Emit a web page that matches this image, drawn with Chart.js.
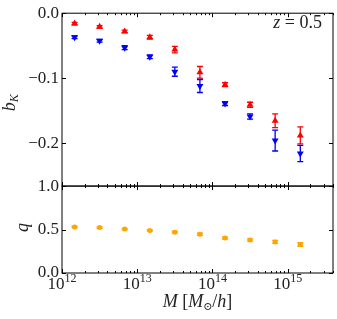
<!DOCTYPE html>
<html>
<head>
<meta charset="utf-8">
<script src="https://cdn.jsdelivr.net/npm/chart.js@4/dist/chart.umd.min.js"></script>
<style>html,body{margin:0;padding:0;background:#fff}canvas{display:block}</style>
</head>
<body>
<canvas id="c" width="337" height="319"></canvas>
<script>
// halo mass bin centres
const mass=[1.47e12,3.16e12,6.81e12,1.47e13,3.16e13,6.81e13,1.47e14,3.16e14,6.81e14,1.47e15];
// b_K, upward triangles (red)
const bkUp=[-0.016,-0.021,-0.028,-0.037,-0.056,-0.091,-0.110,-0.141,-0.1655,-0.188];
const bkUpErr=[0.002,0.002,0.002,0.003,0.005,0.009,0.003,0.004,0.0105,0.013];
// b_K, downward triangles (blue)
const bkDn=[-0.037,-0.0425,-0.053,-0.067,-0.090,-0.112,-0.139,-0.159,-0.196,-0.216];
const bkDnErr=[0.002,0.002,0.003,0.003,0.007,0.010,0.003,0.004,0.016,0.0125];
// q (orange)
const qVal=[0.530,0.522,0.506,0.490,0.470,0.445,0.403,0.380,0.358,0.328];
const qErr=[0.008,0.008,0.008,0.009,0.010,0.012,0.012,0.013,0.017,0.020];

const xTicks=[1e12,1e13,1e14,1e15];
const xTickExps=['12','13','14','15'];
const yTopTicks=[-0.2,-0.1,0.0];
const yBotTicks=[0.0,0.5,1.0];

const SERIF='"Liberation Serif", "DejaVu Serif", serif';
const pts=ys=>mass.map((m,i)=>({x:m,y:ys[i]}));
const fmt=v=>(Math.abs(v)<1e-9?'0.0':v.toFixed(1).replace('-','\u2212'));

// error bars, drawn under the markers
const errBars={id:'errBars',beforeDatasetsDraw(chart){
  const ctx=chart.ctx, x=chart.scales.x;
  chart.data.datasets.forEach(ds=>{
    const y=chart.scales[ds.yAxisID];
    ctx.save();
    ctx.strokeStyle=ds.borderColor; ctx.lineWidth=1.3;
    ds.data.forEach((p,j)=>{
      const px=x.getPixelForValue(p.x);
      const y1=y.getPixelForValue(p.y+ds.err[j]), y2=y.getPixelForValue(p.y-ds.err[j]);
      ctx.beginPath();
      ctx.moveTo(px,y1);ctx.lineTo(px,y2);
      ctx.moveTo(px-3,y1);ctx.lineTo(px+3,y1);
      ctx.moveTo(px-3,y2);ctx.lineTo(px+3,y2);
      ctx.stroke();
    });
    ctx.restore();
  });
}};

// frame + inward ticks on both panels, and the 10^n labels
const frame={id:'frame',afterDraw(chart){
  const {ctx,chartArea:a,scales:{x,yTop,yBot}}=chart;
  ctx.save();
  ctx.strokeStyle='#000'; ctx.lineWidth=1;
  const xs=[];
  for(let n=12;n<=15;n++) for(let k=1;k<=9;k++){
    const v=k*Math.pow(10,n);
    if(v>=x.min&&v<=x.max) xs.push([v,k===1?4:2]);
  }
  [[yTop,yTopTicks],[yBot,yBotTicks]].forEach(([y,tks])=>{
    ctx.strokeRect(a.left,y.top,a.right-a.left,y.bottom-y.top);
    ctx.beginPath();
    xs.forEach(([v,len])=>{
      const px=Math.round(x.getPixelForValue(v))+0.5;
      ctx.moveTo(px,y.top);ctx.lineTo(px,y.top+len);
      ctx.moveTo(px,y.bottom);ctx.lineTo(px,y.bottom-len);
    });
    tks.forEach(v=>{
      const py=Math.round(y.getPixelForValue(v))+0.5;
      ctx.moveTo(a.left,py);ctx.lineTo(a.left+4,py);
      ctx.moveTo(a.right,py);ctx.lineTo(a.right-4,py);
    });
    ctx.stroke();
  });
  ctx.fillStyle='#222';
  xTicks.forEach((v,i)=>{
    rich(ctx,[['10',17,false],[xTickExps[i],12,false,-7]],x.getPixelForValue(v),x.top+16,'center');
  });
  ctx.restore();
}};

// draw a run of text pieces [text, size, italic, dy]
function rich(ctx,parts,x,y,align){
  let w=0;
  parts.forEach(p=>{ctx.font=(p[2]?'italic ':'')+p[1]+'px '+SERIF;w+=ctx.measureText(p[0]).width;});
  let cx=align==='center'?x-w/2:align==='right'?x-w:x;
  ctx.textAlign='left';ctx.textBaseline='alphabetic';
  parts.forEach(p=>{
    ctx.font=(p[2]?'italic ':'')+p[1]+'px '+SERIF;
    ctx.fillText(p[0],cx,y+(p[3]||0));
    cx+=ctx.measureText(p[0]).width;
  });
}

const titles={id:'titles',afterDraw(chart){
  const {ctx,chartArea:a,scales:{yTop,yBot}}=chart;
  ctx.save();
  ctx.fillStyle='#222';
  // y titles
  ctx.save();
  ctx.translate(15,(yTop.top+yTop.bottom)/2+3);
  ctx.rotate(-Math.PI/2);
  rich(ctx,[['b',18,true],['K',12,true,3]],0,0,'center');
  ctx.restore();
  ctx.save();
  ctx.translate(28,(yBot.top+yBot.bottom)/2-2);
  ctx.rotate(-Math.PI/2);
  rich(ctx,[['q',18,true]],0,0,'center');
  ctx.restore();
  // x title
  rich(ctx,[['M',18,true],[' [',18,false],['M',18,true],['\u2299',11,false,3],['/',18,false],['h',18,true],[']',18,false]],(a.left+a.right)/2,307,'center');
  // redshift label
  rich(ctx,[['z',18,true],[' = 0.5',18,false]],322,28,'right');
  ctx.restore();
}};

const yCommon={
  type:'linear',position:'left',stack:'panels',
  grid:{display:false,drawTicks:false},border:{display:false},
  ticks:{font:{family:SERIF,size:17},color:'#222',padding:3,callback:v=>fmt(v)},
  afterFit:s=>{s.width=62;}
};

new Chart(document.getElementById('c'),{
  type:'scatter',
  data:{datasets:[
    {label:'b_K up',data:pts(bkUp),err:bkUpErr,yAxisID:'yTop',pointStyle:'triangle',pointRadius:4,
     backgroundColor:'#ff0000',borderColor:'#ff0000',borderWidth:0},
    {label:'b_K down',data:pts(bkDn),err:bkDnErr,yAxisID:'yTop',pointStyle:'triangle',rotation:180,pointRadius:4,
     backgroundColor:'#0000ff',borderColor:'#0000ff',borderWidth:0},
    {label:'q',data:pts(qVal),err:qErr,yAxisID:'yBot',pointStyle:'circle',pointRadius:2.5,
     backgroundColor:'#ffa500',borderColor:'#ffa500',borderWidth:0}
  ]},
  options:{
    responsive:false,animation:false,
    layout:{padding:{top:10,right:4,left:0,bottom:0}},
    plugins:{legend:{display:false},tooltip:{enabled:false}},
    scales:{
      x:{type:'logarithmic',min:1e12,max:4e15,
         grid:{display:false,drawTicks:false},border:{display:false},
         afterBuildTicks:s=>{s.ticks=xTicks.map(v=>({value:v}));},
         afterFit:s=>{s.height=46;},
         ticks:{display:false}},
      // stacked panels: the later one sits on top
      yBot:Object.assign({},yCommon,{min:0,max:1,stackWeight:88,
         afterBuildTicks:s=>{s.ticks=yBotTicks.map(v=>({value:v}));}}),
      yTop:Object.assign({},yCommon,{min:-0.266,max:0,stackWeight:175,
         afterBuildTicks:s=>{s.ticks=yTopTicks.map(v=>({value:v}));}})
    }
  },
  plugins:[errBars,frame,titles]
});
</script>
</body>
</html>
